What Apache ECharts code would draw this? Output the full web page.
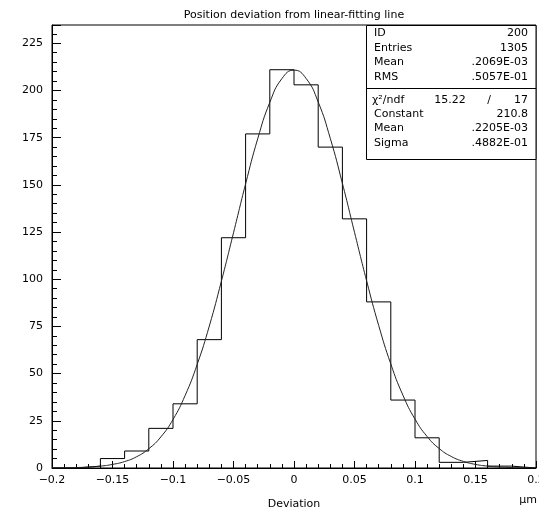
<!DOCTYPE html>
<html><head><meta charset="utf-8">
<script src="https://cdn.jsdelivr.net/npm/echarts@6/dist/echarts.min.js"></script>
<style>html,body{margin:0;padding:0;background:#fff}#c{width:539px;height:511px}</style>
</head><body><div id="c"></div>
<script>
// Histogram: lower bin edges and counts
const binLow = [-0.20,-0.18,-0.16,-0.14,-0.12,-0.10,-0.08,-0.06,-0.04,-0.02,0.00,0.02,0.04,0.06,0.08,0.10,0.12,0.14,0.16,0.18];
const binHigh = 0.20;
const counts = [0,1,5,9,21,34,68,122,177,211,203,170,132,88,36,16,3,4,1,0];
// Gaussian fit curve
const fitX = [-0.20,-0.19,-0.18,-0.17,-0.16,-0.15,-0.14,-0.13,-0.12,-0.11,-0.10,-0.09,-0.08,-0.07,-0.06,-0.05,-0.04,-0.03,-0.02,-0.01,0.00,0.01,0.02,0.03,0.04,0.05,0.06,0.07,0.08,0.09,0.10,0.11,0.12,0.13,0.14,0.15,0.16,0.17,0.18,0.19,0.20];
const fitY = [0.04,0.1,0.24,0.49,0.98,1.9,3.4,6.0,10.2,16.5,25.7,38.4,54.9,75.2,99.0,124.6,150.5,174.4,193.7,206.3,210.8,206.4,193.9,174.6,150.8,124.9,99.2,75.5,55.1,38.6,25.9,16.7,10.3,6.1,3.5,1.9,1.0,0.5,0.24,0.1,0.04];
// Statistics box
const title = 'Position deviation from linear-fitting line';
const statLabels = ['ID','Entries','Mean','RMS'];
const statValues = ['200','1305','.2069E-03','.5057E-01'];
const chi2Label = 'χ²/ndf', chi2Value = '15.22', ndfValue = '17';
const fitLabels = ['Constant','Mean','Sigma'];
const fitValues = ['210.8','.2205E-03','.4882E-01'];
const xName = 'Deviation', xUnit = 'μm';

const histData = binLow.map((x,i)=>[x,counts[i]]);
histData.push([binHigh, counts[counts.length-1]]);
const fitData = fitX.map((x,i)=>[x,fitY[i]]);

const FONT = 'DejaVu Sans';
const txt = (x,y,text,align) => ({type:'text', x:x, y:y, z:100,
  style:{text:text, fill:'#000', font:'11px "'+FONT+'"', textAlign:align||'left', textVerticalAlign:'middle'}});

const graphics = [
  txt(294,15,title,'center'),
  txt(294,504,xName,'center'),
  txt(528,500,xUnit,'center'),
  {type:'rect', z:90, shape:{x:366.5,y:25.5,width:169.5,height:134}, style:{fill:'#fff',stroke:'#000',lineWidth:1}},
  {type:'line', z:91, shape:{x1:366.5,y1:88.5,x2:536,y2:88.5}, style:{stroke:'#000',lineWidth:1}}
];
const rowsTop = [33,48,62,77];
statLabels.forEach((l,i)=>{graphics.push(txt(374,rowsTop[i],l)); graphics.push(txt(528,rowsTop[i],statValues[i],'right'));});
graphics.push(txt(372,100,chi2Label));
graphics.push(txt(450,100,chi2Value,'center'));
graphics.push(txt(489,100,'/','center'));
graphics.push(txt(528,100,ndfValue,'right'));
const rowsBot = [114,128,143];
fitLabels.forEach((l,i)=>{graphics.push(txt(374,rowsBot[i],l)); graphics.push(txt(528,rowsBot[i],fitValues[i],'right'));});

const chart = echarts.init(document.getElementById('c'), null, {renderer:'canvas'});
chart.setOption({
  animation:false,
  backgroundColor:'#fff',
  grid:{left:52,right:3,top:25,bottom:43,show:true,borderColor:'#000',borderWidth:1,backgroundColor:'transparent',
    containLabel:false,outerBoundsMode:'none'},
  xAxis:{type:'value',min:-0.2,max:0.2,interval:0.05,
    axisLine:{onZero:false,lineStyle:{color:'#000',width:1}},
    axisTick:{inside:true,length:7,lineStyle:{color:'#000'}},
    minorTick:{show:true,splitNumber:5,length:4,lineStyle:{color:'#000'}},
    splitLine:{show:false},
    axisLabel:{color:'#000',fontFamily:FONT,fontSize:11,margin:7,hideOverlap:false,
      formatter:v=>String(+(+v).toFixed(2)).replace('-','\u2212')}},
  yAxis:{type:'value',min:0,max:234.7,interval:25,
    axisLine:{show:true,onZero:false,lineStyle:{color:'#000',width:1}},
    axisTick:{show:true,inside:true,length:9,lineStyle:{color:'#000'}},
    minorTick:{show:true,splitNumber:5,length:5,lineStyle:{color:'#000'}},
    splitLine:{show:false},
    axisLabel:{color:'#000',fontFamily:FONT,fontSize:11,margin:9,showMaxLabel:false}},
  series:[
    {type:'line',data:histData,step:'end',showSymbol:false,symbol:'none',
      lineStyle:{color:'#000',width:1},z:3},
    {type:'line',data:fitData,smooth:true,showSymbol:false,symbol:'none',
      lineStyle:{color:'#222',width:1},z:4}
  ],
  graphic:graphics
});
</script></body></html>
